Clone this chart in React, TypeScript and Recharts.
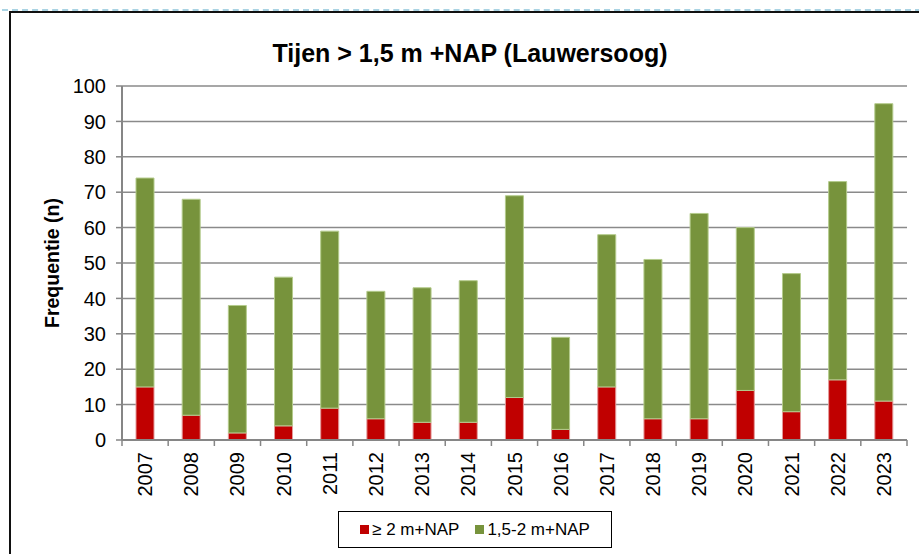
import React from "react";
import { BarChart, Bar, XAxis, YAxis, CartesianGrid } from "recharts";

const years = [
  "2007", "2008", "2009", "2010", "2011", "2012", "2013", "2014", "2015",
  "2016", "2017", "2018", "2019", "2020", "2021", "2022", "2023",
];
// ≥ 2 m+NAP (red, bottom of stack)
const above2m = [15, 7, 2, 4, 9, 6, 5, 5, 12, 3, 15, 6, 6, 14, 8, 17, 11];
// 1,5-2 m+NAP (green, top of stack)
const between = [59, 61, 36, 42, 50, 36, 38, 40, 57, 26, 43, 45, 58, 46, 39, 56, 84];

const seriesNames = ["≥ 2 m+NAP", "1,5-2 m+NAP"];
const seriesColors = ["#C00000", "#77933C"];
const seriesEdges = ["#E39A9A", "#B4CB8C"];
const yTicks = [0, 10, 20, 30, 40, 50, 60, 70, 80, 90, 100];

const data = years.map((year, i) => ({
  year,
  hi: above2m[i],
  mid: between[i],
}));

const W = 919;
const H = 554;
const margin = { top: 86, right: 12, bottom: 54, left: 0 };
const yAxisWidth = 122;
const band = (W - margin.right - yAxisWidth) / years.length;
const font = "'Liberation Sans', Arial, sans-serif";

const XTick = (props: any) => {
  const { x, y, payload, index } = props;
  const half = band / 2;
  return (
    <g>
      <line x1={x - half} x2={x - half} y1={y} y2={y + 6} stroke="#868686" strokeWidth={1.5} />
      {index === years.length - 1 && (
        <line x1={x + half} x2={x + half} y1={y} y2={y + 6} stroke="#868686" strokeWidth={1.5} />
      )}
      <text
        x={x}
        y={y + 12}
        dy="0.35em"
        textAnchor="end"
        transform={`rotate(-90, ${x}, ${y + 12})`}
        fontSize={20}
        fontFamily={font}
        fill="#000"
      >
        {payload.value}
      </text>
    </g>
  );
};

export default function App() {
  return (
    <div
      style={{
        position: "absolute",
        left: 0,
        top: 0,
        width: W,
        height: H,
        overflow: "hidden",
        background: "#fff",
        fontFamily: font,
      }}
    >
      <div
        style={{
          position: "absolute",
          left: 2,
          top: 9,
          width: W,
          borderTop: "2px dashed #A9D3E3",
        }}
      />
      <div
        style={{
          position: "absolute",
          left: 9,
          top: 11,
          width: W,
          height: H,
          borderLeft: "2px solid #111",
          borderTop: "2px solid #111",
        }}
      />
      <div
        style={{
          position: "absolute",
          left: 0,
          width: 940,
          top: 38,
          lineHeight: "30px",
          textAlign: "center",
          fontSize: 25,
          fontWeight: "bold",
          color: "#000",
        }}
      >
        Tijen &gt; 1,5 m +NAP (Lauwersoog)
      </div>
      <div style={{ position: "absolute", left: 0, top: 0 }}>
        <BarChart width={W} height={H} data={data} margin={margin}>
          <CartesianGrid vertical={false} stroke="#8A8A8A" strokeWidth={1.5} />
          <XAxis
            dataKey="year"
            height={60}
            interval={0}
            tickLine={false}
            tickSize={0}
            tickMargin={0}
            axisLine={{ stroke: "#868686", strokeWidth: 2 }}
            tick={<XTick />}
          />
          <XAxis
            xAxisId="top"
            dataKey="year"
            orientation="top"
            height={0}
            tick={false}
            tickLine={false}
            axisLine={{ stroke: "#000", strokeWidth: 2 }}
          />
          <YAxis
            width={yAxisWidth}
            domain={[0, 100]}
            ticks={yTicks}
            interval={0}
            tickSize={6}
            tickMargin={10}
            tickLine={{ stroke: "#868686", strokeWidth: 1.5 }}
            axisLine={{ stroke: "#868686", strokeWidth: 2 }}
            tick={{ fontSize: 20, fill: "#000", fontFamily: font }}
            label={{
              value: "Frequentie (n)",
              angle: -90,
              position: "insideLeft",
              offset: 52,
              style: {
                textAnchor: "middle",
                fontWeight: "bold",
                fontSize: 19.5,
                fill: "#000",
                fontFamily: font,
              },
            }}
          />
          <YAxis
            yAxisId="r"
            orientation="right"
            width={0}
            domain={[0, 100]}
            tick={false}
            tickLine={false}
            axisLine={{ stroke: "#000", strokeWidth: 2 }}
          />
          <Bar
            dataKey="hi"
            name={seriesNames[0]}
            stackId="a"
            barSize={18}
            fill={seriesColors[0]}
            stroke={seriesEdges[0]}
            strokeWidth={1}
            isAnimationActive={false}
          />
          <Bar
            dataKey="mid"
            name={seriesNames[1]}
            stackId="a"
            barSize={18}
            fill={seriesColors[1]}
            stroke={seriesEdges[1]}
            strokeWidth={1}
            isAnimationActive={false}
          />
        </BarChart>
      </div>
      <div
        style={{
          position: "absolute",
          left: 338,
          top: 511,
          width: 274,
          height: 37,
          boxSizing: "border-box",
          border: "1.5px solid #000",
          display: "flex",
          alignItems: "center",
          justifyContent: "center",
          gap: 16,
          fontSize: 17,
          color: "#000",
        }}
      >
        {seriesNames.map((name, i) => (
          <div key={name} style={{ display: "flex", alignItems: "center", gap: 3 }}>
            <span
              style={{
                display: "inline-block",
                width: 9,
                height: 9,
                background: seriesColors[i],
              }}
            />
            <span>{name}</span>
          </div>
        ))}
      </div>
    </div>
  );
}
